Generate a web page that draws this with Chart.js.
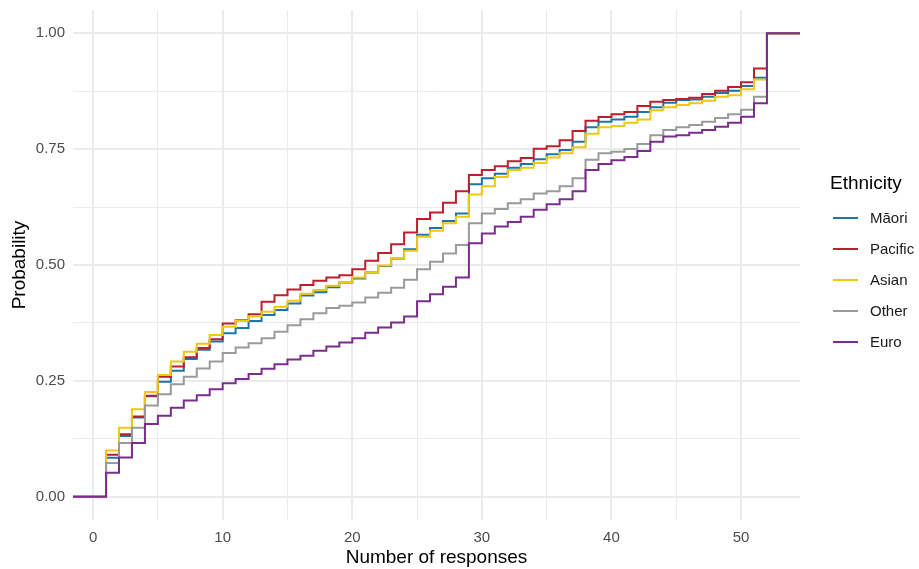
<!DOCTYPE html>
<html>
<head>
<meta charset="utf-8">
<script src="https://cdn.jsdelivr.net/npm/chart.js@4.4.1/dist/chart.umd.min.js"></script>
<style>
    body { margin: 0; background: #ffffff; font-family: "Liberation Sans", Arial, sans-serif; }
    #wrap { position: relative; width: 919px; height: 569px; }
    #legend { position: absolute; left: 830px; top: 172px; color: #000; }
    #legend .title { font-size: 19px; margin-bottom: 8px; }
    #legend .item { display: flex; align-items: center; height: 31px; font-size: 15px; color: #1a1a1a; }
    #legend .key { width: 25px; height: 2px; margin: 0 12px 0 3px; }
</style>
</head>
<body>
<div id="wrap">
    <canvas id="ecdfChart" width="919" height="569"></canvas>
    <div id="legend"></div>
</div>
<script>
// x values where the ECDF steps (number of responses)
const responses = [1, 2, 3, 4, 5, 6, 7, 8, 9, 10, 11, 12, 13, 14, 15, 16, 17, 18, 19, 20,
    21, 22, 23, 24, 25, 26, 27, 28, 29, 30, 31, 32, 33, 34, 35, 36, 37, 38, 39, 40,
    41, 42, 43, 44, 45, 46, 47, 48, 49, 50, 51, 52];

const maori = [0.084, 0.131, 0.171, 0.217, 0.248, 0.272, 0.297, 0.317, 0.335, 0.353,
    0.364, 0.379, 0.392, 0.403, 0.417, 0.434, 0.441, 0.452, 0.462, 0.471,
    0.484, 0.498, 0.514, 0.534, 0.565, 0.580, 0.595, 0.611, 0.674, 0.687,
    0.697, 0.710, 0.718, 0.728, 0.739, 0.748, 0.766, 0.797, 0.809, 0.814,
    0.820, 0.830, 0.840, 0.850, 0.856, 0.857, 0.863, 0.871, 0.876, 0.886,
    0.904, 1];
const pacific = [0.091, 0.135, 0.173, 0.218, 0.259, 0.281, 0.301, 0.321, 0.340, 0.374,
    0.381, 0.394, 0.421, 0.435, 0.447, 0.457, 0.466, 0.473, 0.478, 0.491,
    0.509, 0.526, 0.545, 0.570, 0.599, 0.613, 0.634, 0.659, 0.694, 0.705,
    0.713, 0.724, 0.731, 0.751, 0.756, 0.769, 0.789, 0.811, 0.819, 0.825,
    0.830, 0.843, 0.852, 0.856, 0.858, 0.861, 0.869, 0.876, 0.884, 0.894,
    0.924, 1];
const asian = [0.100, 0.149, 0.189, 0.226, 0.263, 0.292, 0.313, 0.330, 0.349, 0.367,
    0.380, 0.389, 0.399, 0.410, 0.423, 0.438, 0.446, 0.455, 0.463, 0.473,
    0.484, 0.499, 0.515, 0.531, 0.561, 0.574, 0.590, 0.604, 0.652, 0.670,
    0.690, 0.705, 0.710, 0.720, 0.732, 0.741, 0.754, 0.783, 0.797, 0.800,
    0.807, 0.814, 0.834, 0.840, 0.845, 0.849, 0.854, 0.863, 0.866, 0.879,
    0.900, 1];
const other = [0.073, 0.116, 0.149, 0.197, 0.221, 0.243, 0.259, 0.277, 0.292, 0.310,
    0.322, 0.331, 0.342, 0.356, 0.370, 0.383, 0.396, 0.407, 0.412, 0.419,
    0.430, 0.440, 0.451, 0.468, 0.491, 0.507, 0.525, 0.543, 0.590, 0.611,
    0.621, 0.633, 0.642, 0.654, 0.659, 0.670, 0.687, 0.727, 0.741, 0.744,
    0.750, 0.761, 0.780, 0.791, 0.797, 0.802, 0.809, 0.817, 0.825, 0.835,
    0.863, 1];
const euro = [0.052, 0.085, 0.116, 0.157, 0.175, 0.192, 0.208, 0.219, 0.232, 0.245,
    0.254, 0.265, 0.276, 0.286, 0.296, 0.304, 0.315, 0.324, 0.333, 0.342,
    0.354, 0.365, 0.376, 0.389, 0.422, 0.437, 0.453, 0.473, 0.547, 0.568,
    0.583, 0.593, 0.604, 0.619, 0.631, 0.642, 0.659, 0.705, 0.718, 0.726,
    0.733, 0.746, 0.766, 0.777, 0.780, 0.785, 0.791, 0.798, 0.807, 0.820,
    0.849, 1];

const groupNames = ['Māori', 'Pacific', 'Asian', 'Other', 'Euro'];
const groupValues = [maori, pacific, asian, other, euro];
const groupColors = ['#1b75a8', '#be1e2d', '#f0c80f', '#9a9a9a', '#7b2d8e'];

// axis limits (data range 1..52 with 5% expansion)
const X_MIN = -1.55, X_MAX = 54.55;
const Y_MIN = -0.05, Y_MAX = 1.05;

const GRID = '#ebebeb';
const isMult = (v, step) => Math.abs(v / step - Math.round(v / step)) < 1e-6;

// ecdf padded out to both panel edges
function ecdfPoints(values) {
    const pts = [{ x: X_MIN, y: 0 }];
    responses.forEach((r, i) => pts.push({ x: r, y: values[i] }));
    pts.push({ x: X_MAX, y: values[values.length - 1] });
    return pts;
}

const datasets = groupNames.map((name, i) => ({
    label: name,
    data: ecdfPoints(groupValues[i]),
    borderColor: groupColors[i],
    backgroundColor: groupColors[i],
    borderWidth: 2,
    pointRadius: 0,
    stepped: 'before',
    fill: false,
    order: groupNames.length - i // later groups drawn on top
}));

const ctx = document.getElementById('ecdfChart').getContext('2d');
new Chart(ctx, {
    type: 'line',
    data: { datasets: datasets },
    options: {
        responsive: false,
        animation: false,
        layout: { padding: { top: 10, right: 119, left: 0, bottom: 0 } },
        plugins: {
            legend: { display: false },
            tooltip: { enabled: false }
        },
        scales: {
            x: {
                type: 'linear',
                min: X_MIN,
                max: X_MAX,
                afterFit: (scale) => {
                    scale.height = 49;
                    scale.paddingLeft = 0;
                    scale.paddingRight = 0;
                },
                border: { display: false },
                grid: {
                    color: GRID,
                    drawTicks: false,
                    lineWidth: (c) => isMult(c.tick.value, 10) ? 2 : 1
                },
                ticks: {
                    stepSize: 5,
                    includeBounds: false,
                    autoSkip: false,
                    maxRotation: 0,
                    padding: 9,
                    color: '#4d4d4d',
                    font: { family: 'Liberation Sans', size: 15 },
                    callback: (v) => isMult(v, 10) ? String(Math.round(v)) : ''
                },
                title: {
                    display: true,
                    text: 'Number of responses',
                    color: '#000000',
                    padding: { top: 0, bottom: 0 },
                    font: { family: 'Liberation Sans', size: 19 }
                }
            },
            y: {
                type: 'linear',
                min: Y_MIN,
                max: Y_MAX,
                afterFit: (scale) => {
                    scale.width = 73;
                    scale.paddingTop = 0;
                    scale.paddingBottom = 0;
                },
                border: { display: false },
                grid: {
                    color: GRID,
                    drawTicks: false,
                    lineWidth: (c) => isMult(c.tick.value, 0.25) ? 2 : 1
                },
                ticks: {
                    stepSize: 0.125,
                    includeBounds: false,
                    autoSkip: false,
                    padding: 8,
                    color: '#4d4d4d',
                    font: { family: 'Liberation Sans', size: 15 },
                    callback: (v) => isMult(v, 0.25) ? v.toFixed(2) : ''
                },
                title: {
                    display: true,
                    text: 'Probability',
                    color: '#000000',
                    padding: { top: 8, bottom: 0 },
                    font: { family: 'Liberation Sans', size: 19 }
                }
            }
        }
    }
});

// legend, ggplot style
const legendEl = document.getElementById('legend');
legendEl.innerHTML = '<div class="title">Ethnicity</div>' + groupNames.map((name, i) => `
    <div class="item"><span class="key" style="background:${groupColors[i]}"></span>${name}</div>
`).join('');
</script>
</body>
</html>
